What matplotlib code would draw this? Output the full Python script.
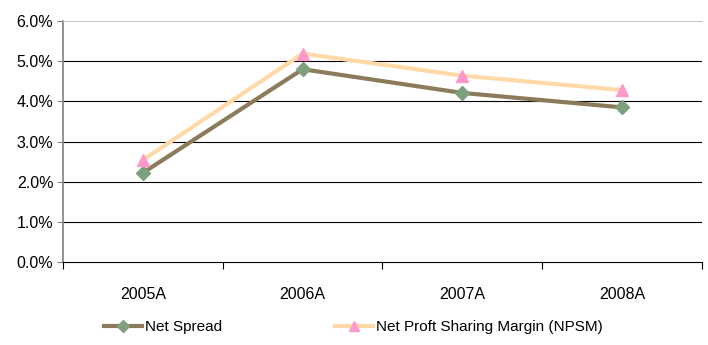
import matplotlib.pyplot as plt
import numpy as np
from matplotlib.ticker import FuncFormatter

plt.rcParams['font.family'] = ['Liberation Sans', 'DejaVu Sans']

years = ['2005A', '2006A', '2007A', '2008A']
net_spread = [2.22, 4.80, 4.21, 3.85]
npsm = [2.54, 5.19, 4.64, 4.28]

fig = plt.figure(figsize=(7.08, 3.45), dpi=100)
ax = fig.add_axes([0.089, 0.2406, 0.9025, 0.6984])

x = np.arange(len(years))
ax.plot(x, net_spread, color='#8C7B5A', lw=3.0, marker='D', ms=7.5,
        mfc='#7FA07F', mec='#7FA07F', label='Net Spread', zorder=3)
ax.plot(x, npsm, color='#FFDAA8', lw=3.0, marker='^', ms=8.5,
        mfc='#FF99CC', mec='#FF99CC', label='Net Proft Sharing Margin (NPSM)', zorder=3)

ax.set_xlim(-0.5, len(years) - 0.5)
ax.set_ylim(0, 6)
ax.set_yticks(np.arange(0, 6.1, 1))
ax.yaxis.set_major_formatter(FuncFormatter(lambda v, p: '%.1f%%' % v))
ax.set_xticks(x)
ax.set_xticklabels(years)
ax.set_xticks(np.arange(-0.5, len(years), 1), minor=True)
ax.tick_params(axis='x', which='major', length=0, pad=18, labelsize=11.5)
ax.tick_params(axis='x', which='minor', length=5, width=0.8, color='black')
ax.tick_params(axis='y', length=4, width=0.8, color='#808080', labelsize=11.5, pad=3)

for v in range(1, 6):
    ax.axhline(v, color='black', lw=0.8, zorder=1)

ax.spines['top'].set_color('#C8C8C8')
ax.spines['right'].set_visible(False)
ax.spines['left'].set_color('#808080')
ax.spines['left'].set_linewidth(1.2)
ax.spines['bottom'].set_color('black')
ax.spines['bottom'].set_linewidth(0.8)

ax.legend(loc='center left', bbox_to_anchor=(0.054, -0.27), ncol=2, frameon=False,
          fontsize=11, handlelength=2.5, handletextpad=0.2, columnspacing=7.4,
          markerscale=0.8, borderaxespad=0)

fig.savefig('out.png', dpi=100)
